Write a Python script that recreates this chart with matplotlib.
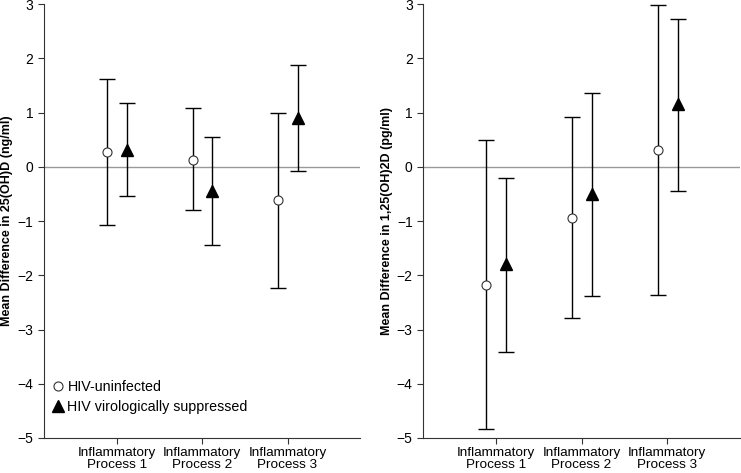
import matplotlib
matplotlib.use("Agg")
import matplotlib.pyplot as plt
import numpy as np

plt.rcParams["font.family"] = ["Liberation Sans", "DejaVu Sans"]

categories = ["Inflammatory\nProcess 1", "Inflammatory\nProcess 2", "Inflammatory\nProcess 3"]
series_labels = ["HIV-uninfected", "HIV virologically suppressed"]

# 25(OH)D panel
d25_uninf_mean = [0.28, 0.13, -0.62]
d25_uninf_low = [-1.07, -0.80, -2.23]
d25_uninf_high = [1.62, 1.09, 0.99]
d25_supp_mean = [0.31, -0.45, 0.90]
d25_supp_low = [-0.54, -1.44, -0.08]
d25_supp_high = [1.18, 0.55, 1.87]

# 1,25(OH)2D panel
d125_uninf_mean = [-2.18, -0.94, 0.31]
d125_uninf_low = [-4.84, -2.78, -2.37]
d125_uninf_high = [0.50, 0.91, 2.99]
d125_supp_mean = [-1.79, -0.50, 1.16]
d125_supp_low = [-3.42, -2.38, -0.45]
d125_supp_high = [-0.21, 1.36, 2.72]


def draw_panel(ax, groups, ylabel, legend=False):
    x = np.arange(1, len(categories) + 1)
    offsets = (-0.11, 0.12)
    styles = (
        dict(marker="o", mfc="white", mec="#333333", mew=0.8, ms=6.5),
        dict(marker="^", mfc="black", mec="black", ms=8),
    )
    ax.axhline(0, color="#999999", lw=1.0, zorder=0)
    for (mean, low, high), off, st, lab in zip(groups, offsets, styles, series_labels):
        mean = np.asarray(mean)
        yerr = [mean - np.asarray(low), np.asarray(high) - mean]
        ax.errorbar(x + off, mean, yerr=yerr, fmt="none", ecolor="black",
                    elinewidth=1.0, capsize=6, capthick=1.0, zorder=2)
        ax.plot(x + off, mean, ls="none", label=lab, zorder=3, **st)
    ax.set_xlim(0.15, 3.85)
    ax.set_ylim(-5, 3)
    ax.set_yticks(range(-5, 4))
    ax.set_xticks(x)
    ax.set_xticklabels(categories, fontsize=9.7, linespacing=0.95)
    ax.tick_params(axis="y", labelsize=10, direction="out", length=4, color="#333333")
    ax.tick_params(axis="x", direction="out", length=4, pad=2.5, color="#333333")
    for s in ("top", "right"):
        ax.spines[s].set_visible(False)
    for s in ("left", "bottom"):
        ax.spines[s].set_color("#333333")
    ax.set_ylabel(ylabel, fontsize=9, fontweight="bold", labelpad=3)
    if legend:
        ax.legend(loc="lower left", bbox_to_anchor=(-0.005, 0.035), frameon=False,
                  fontsize=10.3, handletextpad=0.15, labelspacing=0.45,
                  handlelength=1.0, borderaxespad=0.2)


fig = plt.figure(figsize=(7.41, 4.73), dpi=100)
ax1 = fig.add_axes([0.0594, 0.074, 0.4266, 0.9175])
ax2 = fig.add_axes([0.571, 0.074, 0.4277, 0.9175])

draw_panel(ax1, [(d25_uninf_mean, d25_uninf_low, d25_uninf_high),
                 (d25_supp_mean, d25_supp_low, d25_supp_high)],
           "Mean Difference in 25(OH)D (ng/ml)", legend=True)
draw_panel(ax2, [(d125_uninf_mean, d125_uninf_low, d125_uninf_high),
                 (d125_supp_mean, d125_supp_low, d125_supp_high)],
           "Mean Difference in 1,25(OH)2D (pg/ml)")

fig.savefig("out.png", dpi=100)
